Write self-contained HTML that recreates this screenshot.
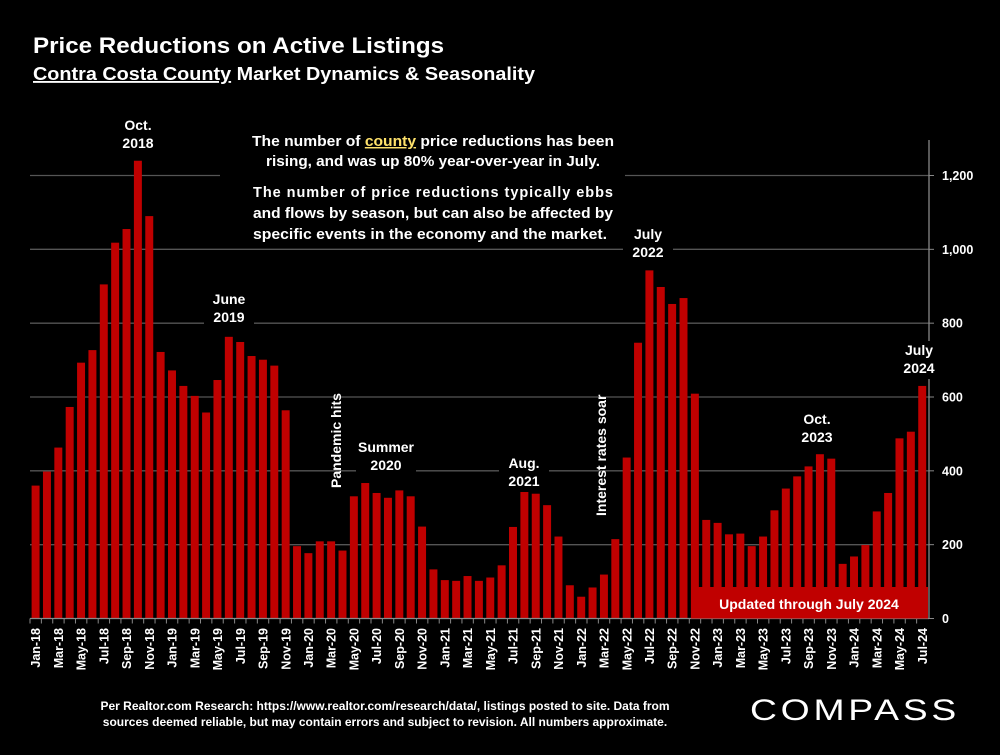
<!DOCTYPE html>
<html><head><meta charset="utf-8"><style>
body{margin:0;background:#000;width:1000px;height:750px;overflow:hidden;font-family:"Liberation Sans",sans-serif}
svg text{font-family:"Liberation Sans",sans-serif;fill:#fff;font-weight:bold}
</style></head><body>
<svg id="chart" width="1000" height="750" viewBox="0 0 1000 750">
<text x="33" y="53" font-size="22" textLength="411" lengthAdjust="spacingAndGlyphs">Price Reductions on Active Listings</text>
<text x="33" y="80" font-size="18.5" textLength="502" lengthAdjust="spacingAndGlyphs"><tspan text-decoration="underline">Contra Costa County</tspan> Market Dynamics &amp; Seasonality</text>
<g id="grid"></g>
<g id="bars"></g>
<g id="xlabels"></g>
<g id="yaxis"></g>
<g id="notes"></g>
<text x="385" y="710" font-size="12" text-anchor="middle">Per Realtor.com Research:  https://www.realtor.com/research/data/, listings posted to site. Data from</text>
<text x="385" y="726" font-size="12" text-anchor="middle">sources deemed reliable, but may contain errors and subject to revision. All numbers approximate.</text>
<text x="750" y="720" font-size="30" textLength="210" lengthAdjust="spacingAndGlyphs" style="font-weight:normal;letter-spacing:3px">COMPASS</text>
</svg>
<script>
const months=["Jan","Feb","Mar","Apr","May","Jun","Jul","Aug","Sep","Oct","Nov","Dec"];
const categories=[];for(let y=18;y<=24;y++)for(let m=0;m<12;m++){if(y===24&&m>6)break;categories.push(months[m]+"-"+y);}
const values=[360,398,463,573,693,727,905,1018,1055,1240,1090,722,
672,630,603,558,646,763,749,711,701,685,564,196,
177,209,209,184,331,367,340,327,347,331,249,133,
104,102,115,102,111,144,248,345,338,307,222,90,
59,84,119,215,436,747,943,898,852,868,609,267,
259,228,230,196,222,293,352,385,412,445,433,148,
168,199,290,340,488,506,630];
const yTicks=[0,200,400,600,800,1000,1200];
const yTickLabels=["0","200","400","600","800","1,000","1,200"];
const NS="http://www.w3.org/2000/svg";
const x0=30,x1=928,y0=618.5,pxPer=443/1200;
const slot=(x1-x0)/categories.length;
const yS=v=>y0-v*pxPer, xS=i=>x0+i*slot;
function mk(tag,attrs,parent,txt){const e=document.createElementNS(NS,tag);for(const k in attrs)e.setAttribute(k,attrs[k]);if(txt!==undefined)e.textContent=txt;parent.appendChild(e);return e;}
const grid=document.getElementById('grid'),bars=document.getElementById('bars'),xl=document.getElementById('xlabels'),ya=document.getElementById('yaxis'),notes=document.getElementById('notes');
yTicks.forEach((t,i)=>{if(t===0)return;const l=mk('line',{x1:x0,x2:929,y1:yS(t),y2:yS(t),stroke:'#555','stroke-width':1.3},grid);

});
values.forEach((v,i)=>{const r=mk('rect',{x:xS(i)+1.6,y:yS(v),width:slot-3.4,height:y0-yS(v),fill:'#c00000'},bars);

});
const ub=mk('rect',{x:691,y:587,width:237,height:y0-587,fill:'#c00000'},notes);


const ut=mk('text',{x:809,y:609,'font-size':14,'text-anchor':'middle'},notes,'Updated through July 2024');


mk('line',{x1:929,x2:929,y1:140,y2:y0,stroke:'#888','stroke-width':1.3},ya);
mk('line',{x1:x0,x2:929,y1:y0,y2:y0,stroke:'#888','stroke-width':1.3},ya);
yTicks.forEach((t,i)=>{mk('line',{x1:929,x2:934,y1:yS(t),y2:yS(t),stroke:'#888'},ya);
const tx=mk('text',{x:942,y:yS(t)+4.5,'font-size':12.5},ya,yTickLabels[i]);

});
categories.forEach((c,i)=>{const cx=xS(i)+slot/2;mk('line',{x1:xS(i),x2:xS(i),y1:y0,y2:y0+5,stroke:'#888'},xl);
if(i%2)return;const t=mk('text',{transform:`translate(${cx+4.5},628) rotate(-90)`,'font-size':12.5,'text-anchor':'end'},xl,c);

});
function note(lines,x,y,fs,name,bgw,fill){const g=mk('g',{},notes);
if(bgw)mk('rect',{x:x-bgw/2,y:y-fs,width:bgw,height:lines.length*(fs+4)+2,fill:'#000'},g);
lines.forEach((l,k)=>mk('text',{x:x,y:y+k*(fs+4),'font-size':fs,'text-anchor':'middle',fill:fill||'#fff'},g,l));}
note(["Oct.","2018"],138,130,14,'note-oct-2018',44);
note(["June","2019"],229,304,14,'note-june-2019',50);
note(["Summer","2020"],386,452,14,'note-summer-2020',60);
note(["Aug.","2021"],524,468,14,'note-aug-2021',50);
note(["July","2022"],648,239,14,'note-july-2022',50);
note(["Oct.","2023"],817,424,14,'note-oct-2023',50);
note(["July","2024"],919,355,14,'note-july-2024',44);
const p=mk('text',{transform:'translate(341,488) rotate(-90)','font-size':14},notes,'Pandemic hits');

const ir=mk('text',{transform:'translate(606,516) rotate(-90)','font-size':14},notes,'Interest rates soar');

const bx=mk('rect',{x:220,y:122,width:405,height:126,fill:'#000'},notes);

const h1=mk('text',{x:433,y:146,'font-size':14.5,'text-anchor':'middle',fill:'#ffe26b',textLength:362,lengthAdjust:'spacingAndGlyphs'},notes);

h1.innerHTML='The number of <tspan text-decoration="underline" fill="#ffe26b">county</tspan> price reductions has been';
const h2=mk('text',{x:433,y:166,'font-size':14.5,'text-anchor':'middle',fill:'#ffe26b',textLength:334,lengthAdjust:'spacingAndGlyphs'},notes,'rising, and was up 80% year-over-year in July.');

["The number of price reductions typically ebbs","and flows by season, but can also be affected by","specific events in the economy and the market."].forEach((l,k)=>{
const t=mk('text',{x:253,y:197+k*21,'font-size':14.5,textLength:k<2?360:354,lengthAdjust:k===0?'spacing':'spacingAndGlyphs'},notes,l);

});
</script>
</body></html>
